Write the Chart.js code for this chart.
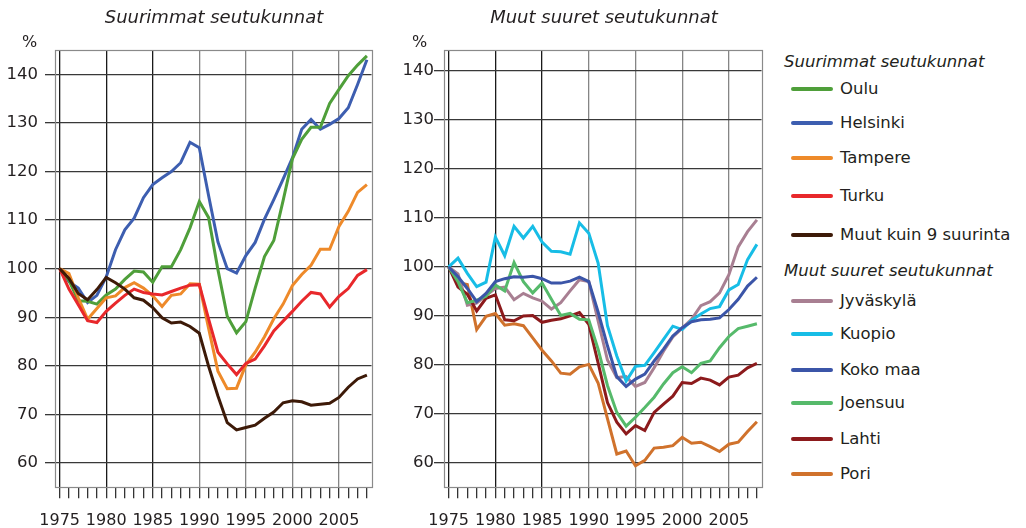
<!DOCTYPE html>
<html><head><meta charset="utf-8">
<script src="https://cdn.jsdelivr.net/npm/chart.js@4.4.1/dist/chart.umd.min.js"></script>
<style>
html,body{margin:0;padding:0;background:#fff;}
#wrap{position:relative;width:1026px;height:528px;overflow:hidden;font-family:"DejaVu Sans",Verdana,sans-serif;color:#231f20;}
canvas{position:absolute;top:0;}
.title{position:absolute;top:8px;font-style:italic;font-size:18px;line-height:18px;text-align:center;white-space:nowrap;}
.pct{position:absolute;top:34px;font-size:16px;line-height:16px;}
.lh{position:absolute;left:784px;font-style:italic;font-size:16.5px;line-height:20px;white-space:nowrap;}
.li{position:absolute;left:840px;font-size:16.5px;line-height:20px;white-space:nowrap;}
.sw{position:absolute;left:791px;width:42px;height:4px;border-radius:2px;}
</style>
</head><body>
<div id="wrap">
  <canvas id="c1" width="380" height="528" style="left:0px;width:380px;height:528px"></canvas>
  <canvas id="c2" width="381" height="528" style="left:389px;width:381px;height:528px"></canvas>
  <div class="title" style="left:55px;width:318px">Suurimmat seutukunnat</div>
  <div class="title" style="left:444px;width:320px">Muut suuret seutukunnat</div>
  <div class="pct" style="left:22px">%</div>
  <div class="pct" style="left:412px">%</div>
  <div id="legend"></div>
</div>
<script>
// ---- categories / ticks ----
const years = [1975,1976,1977,1978,1979,1980,1981,1982,1983,1984,1985,1986,1987,1988,1989,1990,1991,1992,1993,1994,1995,1996,1997,1998,1999,2000,2001,2002,2003,2004,2005,2006,2007,2008];
const yTickValues = [60,70,80,90,100,110,120,130,140];

// ---- Suurimmat seutukunnat ----
const oulu      = [100,97.6,93.4,93.3,92.7,94.6,95.8,97.8,99.5,99.3,97.2,100.4,100.4,103.9,108.4,113.8,110.5,99.8,90.2,86.8,89.1,96.0,102.5,105.8,114.0,122.6,126.6,129.1,129.1,134.0,136.9,139.7,141.9,143.8];
const helsinki  = [100,97.3,96.0,93.0,94.5,98.3,103.9,108.0,110.4,114.6,117.3,118.7,120.0,121.8,126.0,124.9,115.0,105.5,100.0,99.1,102.7,105.4,110.2,114.2,118.4,122.8,128.7,130.7,128.7,129.7,130.9,133.1,137.9,143.0];
const tampere   = [100,99.0,94.0,89.6,91.8,94.0,94.4,96.1,97.1,96.0,94.4,92.2,94.5,94.8,96.9,96.8,87.7,78.9,75.3,75.4,80.2,82.8,86.0,89.7,92.7,96.5,98.8,100.7,104.0,104.0,108.7,111.8,115.7,117.3];
const turku     = [100,95.8,92.6,89.3,88.9,91.2,92.9,94.5,95.8,95.1,94.8,94.6,95.3,96.0,96.6,96.7,89.6,82.8,80.4,78.2,80.5,81.4,84.1,87.2,89.2,91.2,93.3,95.1,94.8,92.1,94.3,95.9,98.6,99.8];
const muut9     = [100,98.0,94.9,93.6,95.7,98.2,97.1,95.8,94.0,93.5,92.0,89.9,88.8,89.0,88.1,86.7,79.9,73.8,68.3,66.8,67.3,67.8,69.2,70.5,72.4,72.8,72.6,71.9,72.1,72.3,73.5,75.6,77.3,78.1];

// ---- Muut suuret seutukunnat ----
const jyvaskyla = [100,98.6,92.2,92.6,94.2,95.6,95.9,93.3,94.6,93.7,93.0,91.4,92.7,95.1,97.4,97.0,89.0,81.0,77.4,77.6,75.6,76.4,79.4,82.8,85.7,87.5,89.3,92.1,92.9,94.7,98.4,104.1,107.2,109.6];
const kuopio    = [100,101.8,98.7,96.0,96.9,106.1,102.3,108.3,105.9,108.3,105.1,103.2,103.1,102.6,109.0,106.9,100.8,88.0,81.8,76.7,79.7,79.9,82.5,85.2,87.9,87.2,89.1,90.4,91.5,91.9,95.3,96.4,101.5,104.6];
const kokoMaa   = [100,98.0,95.6,92.9,94.6,97.0,97.6,98.0,97.9,98.1,97.6,96.7,96.7,97.1,97.9,97.0,90.8,83.9,77.6,75.6,77.1,78.1,80.8,83.2,85.9,87.6,88.8,89.2,89.3,89.6,91.3,93.4,96.1,97.9];
const joensuu   = [100,97.0,92.7,93.2,94.0,96.3,95.1,100.9,97.0,94.7,96.7,93.4,90.1,90.5,89.3,89.2,83.2,75.8,70.3,67.5,69.3,71.3,73.4,76.1,78.4,79.6,78.4,80.3,80.8,83.5,85.8,87.4,87.9,88.4];
const lahti     = [100,95.9,94.4,91.0,93.6,94.3,89.2,89.0,90.0,90.1,88.7,89.1,89.4,90.0,90.7,88.3,80.4,72.3,68.3,65.9,67.6,66.6,70.3,72.0,73.6,76.4,76.2,77.3,76.9,75.9,77.5,77.9,79.4,80.3];
const pori      = [100,96.8,96.4,87.2,89.9,90.5,88.1,88.4,88.0,85.5,83.0,80.8,78.3,78.1,79.6,80.1,76.3,69.0,61.8,62.4,59.4,60.5,63.0,63.2,63.5,65.2,64.0,64.2,63.3,62.3,63.8,64.2,66.4,68.4];

const group1 = [
  {label:'Oulu', data:oulu, color:'#4f9f3a', order:3},
  {label:'Helsinki', data:helsinki, color:'#3d5eb0', order:4},
  {label:'Tampere', data:tampere, color:'#ee8a2a', order:2},
  {label:'Turku', data:turku, color:'#e8282b', order:1},
  {label:'Muut kuin 9 suurinta', data:muut9, color:'#3d1a08', order:0}
];
const group2 = [
  {label:'Jyväskylä', data:jyvaskyla, color:'#a87f92', order:4},
  {label:'Kuopio', data:kuopio, color:'#17bde6', order:1},
  {label:'Koko maa', data:kokoMaa, color:'#3b55a8', order:0},
  {label:'Joensuu', data:joensuu, color:'#56ba6b', order:2},
  {label:'Lahti', data:lahti, color:'#8c1a1c', order:3},
  {label:'Pori', data:pori, color:'#d0722c', order:5}
];

const boxPlugin = {
  id:'box',
  beforeDatasetsDraw(chart){
    const a = chart.chartArea, c = chart.ctx;
    c.save(); c.strokeStyle = '#8a8a8a'; c.lineWidth = 1.2;
    c.strokeRect(Math.round(a.left)+0.5, Math.round(a.top)+0.5, Math.round(a.right-a.left), Math.round(a.bottom-a.top));
    c.restore();
  }
};

function makeChart(id, group, ymax, rightPad, yPad){
  return new Chart(document.getElementById(id), {
    type:'line',
    data:{
      labels: years,
      datasets: group.map(g => ({label:g.label, data:g.data, borderColor:g.color, backgroundColor:g.color,
        borderWidth:3, pointRadius:0, tension:0, fill:false, order:g.order, borderJoinStyle:'miter'}))
    },
    options:{
      responsive:false, animation:false, devicePixelRatio:1,
      layout:{padding:{left:0,right:rightPad,top:50,bottom:0}},
      plugins:{legend:{display:false}, tooltip:{enabled:false}},
      scales:{
        x:{
          type:'category', offset:true,
          afterFit(s){ s.height = 40.7; },
          grid:{offset:false, lineWidth:1.3,
            color(ctx){ const y = years[ctx.index]; if (y % 5 !== 0) return 'rgba(0,0,0,0)'; return y < 1990 ? '#1a1a1a' : '#858585'; },
            tickColor:'#333', tickLength:11, drawTicks:true},
          border:{display:false},
          ticks:{autoSkip:false, maxRotation:0, minRotation:0, padding:13, color:'#231f20',
            font:{family:'"DejaVu Sans", Verdana, sans-serif', size:16},
            callback(v,i){ return years[i] % 5 === 0 ? String(years[i]) : ''; }}
        },
        y:{
          min:55, max:ymax,
          afterFit(s){ s.width = 55; },
          afterBuildTicks(s){ s.ticks = yTickValues.map(v => ({value:v})); },
          grid:{color:'#383838', lineWidth:1.3, tickColor:'#383838', tickLength:10},
          border:{display:false},
          ticks:{padding:yPad, color:'#231f20', font:{family:'"DejaVu Sans", Verdana, sans-serif', size:16.5}}
        }
      }
    },
    plugins:[boxPlugin]
  });
}
makeChart('c1', group1, 145, 7.3, 7);
makeChart('c2', group2, 144.3, 6.7, 0);

// ---- HTML legend ----
const legend = document.getElementById('legend');
function addHeader(text, cy){ const d=document.createElement('div'); d.className='lh'; d.textContent=text; d.style.top=(cy-10)+'px'; legend.appendChild(d); }
function addItem(g, cy){
  const s=document.createElement('div'); s.className='sw'; s.style.background=g.color; s.style.top=(cy-2)+'px'; legend.appendChild(s);
  const t=document.createElement('div'); t.className='li'; t.textContent=g.label; t.style.top=(cy-10)+'px'; legend.appendChild(t);
}
addHeader('Suurimmat seutukunnat', 62);
[89,123,158,196,235].forEach((cy,i)=>addItem(group1[i], cy));
addHeader('Muut suuret seutukunnat', 271);
[301,334,370,403,439,474].forEach((cy,i)=>addItem(group2[i], cy));
</script>
</body></html>
